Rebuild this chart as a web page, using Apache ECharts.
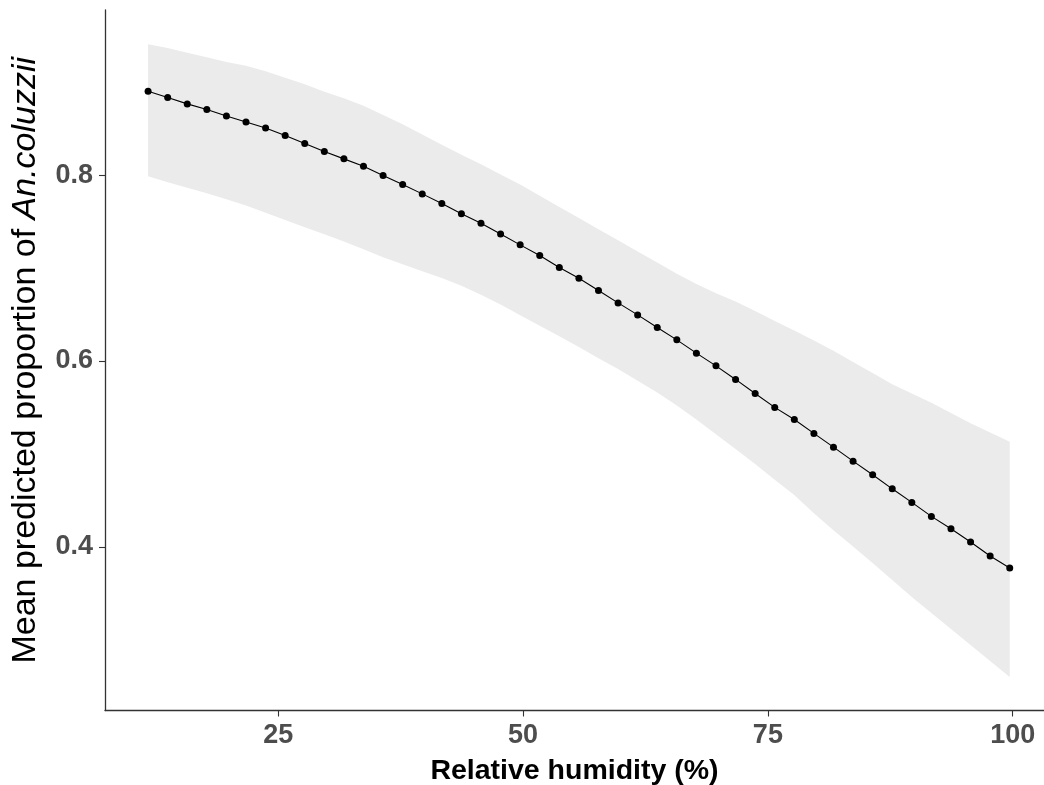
<!DOCTYPE html>
<html>
<head>
<meta charset="utf-8">
<script src="https://cdn.jsdelivr.net/npm/echarts@6/dist/echarts.min.js"></script>
<style>html,body{margin:0;padding:0;background:#fff;}#c{width:1044px;height:785px;}</style>
</head>
<body>
<div id="c"></div>
<script>
const humidity = [11.7,13.7,15.7,17.7,19.7,21.7,23.7,25.7,27.7,29.7,31.7,33.7,35.7,37.7,39.7,41.7,43.7,45.7,47.7,49.7,51.7,53.7,55.7,57.7,59.7,61.7,63.7,65.7,67.7,69.7,71.7,73.7,75.7,77.7,79.7,81.7,83.7,85.7,87.7,89.7,91.7,93.7,95.7,97.7,99.7];
const meanProp = [0.8905,0.8837,0.8769,0.8708,0.8639,0.8575,0.8510,0.8428,0.8342,0.8256,0.8177,0.8098,0.7998,0.7901,0.7800,0.7696,0.7585,0.7484,0.7369,0.7251,0.7137,0.7008,0.6892,0.6760,0.6626,0.6497,0.6362,0.6228,0.6085,0.5948,0.5802,0.5651,0.5501,0.5371,0.5221,0.5073,0.4922,0.4775,0.4624,0.4478,0.4327,0.4194,0.4051,0.3900,0.3771];
const upperCI = [0.941,0.937,0.932,0.927,0.922,0.918,0.912,0.905,0.898,0.890,0.883,0.875,0.865,0.855,0.844,0.833,0.822,0.812,0.801,0.790,0.778,0.766,0.754,0.742,0.730,0.718,0.706,0.694,0.683,0.673,0.664,0.654,0.643,0.633,0.622,0.611,0.599,0.587,0.575,0.565,0.555,0.544,0.533,0.523,0.513];
const lowerCI = [0.799,0.7926,0.7867,0.7807,0.7743,0.7675,0.7597,0.7519,0.7441,0.7366,0.7286,0.7204,0.7118,0.7043,0.6968,0.6895,0.6810,0.6715,0.6610,0.6494,0.6381,0.6268,0.6150,0.6031,0.5913,0.5789,0.5660,0.5520,0.5370,0.5213,0.5052,0.4890,0.4723,0.4557,0.4362,0.4179,0.4002,0.3824,0.3641,0.3458,0.3286,0.3114,0.2941,0.2769,0.2597];
const xTicks = [25, 50, 75, 100];
const yTicks = [0.4, 0.6, 0.8];

const chart = echarts.init(document.getElementById('c'), null, {renderer: 'canvas'});
const bandRows = humidity.map((x, i) => [x, lowerCI[i], upperCI[i]]);
const meanData = humidity.map((x, i) => [x, meanProp[i]]);
const axisColor = '#4D4D4D';
const fam = 'Liberation Sans, Arial, sans-serif';

chart.setOption({
  animation: false,
  backgroundColor: '#ffffff',
  grid: {left: 105, right: 0, top: 10, bottom: 74.5, containLabel: false, outerBoundsMode: 'none'},
  xAxis: {
    type: 'value', min: 7.3, max: 103.2,
    name: 'Relative humidity (%)', nameLocation: 'middle', nameGap: 46,
    nameTextStyle: {color: '#000', fontSize: 28.5, fontWeight: 'bold', fontFamily: fam},
    axisLine: {show: true, lineStyle: {color: '#333', width: 1.3}},
    axisTick: {show: true, length: 6, lineStyle: {color: '#333', width: 1.1}, customValues: xTicks},
    axisLabel: {color: axisColor, fontSize: 27, fontWeight: 'bold', margin: 12, fontFamily: fam, customValues: xTicks},
    splitLine: {show: false}
  },
  yAxis: {
    type: 'value', min: 0.2237, max: 0.978,
    name: '{n|Mean predicted proportion of }{i|An.coluzzii}', nameLocation: 'middle', nameGap: 62, nameRotate: 90,
    nameTextStyle: {
      color: '#000', fontSize: 34, fontFamily: fam,
      rich: {
        n: {fontSize: 34, color: '#000', fontFamily: fam},
        i: {fontSize: 34, color: '#000', fontStyle: 'italic', fontFamily: fam}
      }
    },
    axisLine: {show: true, lineStyle: {color: '#333', width: 1.3}},
    axisTick: {show: true, length: 6, lineStyle: {color: '#333', width: 1.1}, customValues: yTicks},
    axisLabel: {color: axisColor, fontSize: 27, fontWeight: 'bold', margin: 12, fontFamily: fam, customValues: yTicks, formatter: v => v.toFixed(1)},
    splitLine: {show: false}
  },
  series: [
    {
      type: 'custom', silent: true, z: 1,
      data: bandRows,
      encode: {x: 0, y: [1, 2]},
      renderItem: function (params, api) {
        if (params.dataIndex !== 0) return null;
        const pts = [];
        for (let i = 0; i < humidity.length; i++) pts.push(api.coord([humidity[i], upperCI[i]]));
        for (let i = humidity.length - 1; i >= 0; i--) pts.push(api.coord([humidity[i], lowerCI[i]]));
        return {type: 'polygon', shape: {points: pts}, style: {fill: '#EBEBEB', stroke: null}};
      }
    },
    {type: 'line', data: meanData, symbol: 'circle', symbolSize: 7, itemStyle: {color: '#000'}, lineStyle: {color: '#000', width: 1.1}, z: 3}
  ]
});
</script>
</body>
</html>
